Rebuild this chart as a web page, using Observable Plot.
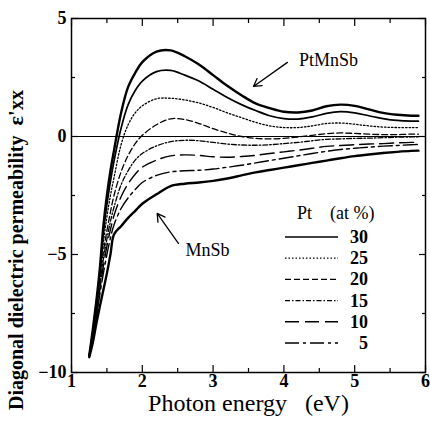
<!DOCTYPE html>
<html><head><meta charset="utf-8">
<script src="https://cdn.jsdelivr.net/npm/d3@7"></script>
<script src="https://cdn.jsdelivr.net/npm/@observablehq/plot@0.6"></script>
<style>
body{margin:0;background:#fff;}
#wrap{position:relative;width:430px;height:421px;}
#legend{position:absolute;left:0;top:0;width:430px;height:421px;pointer-events:none;}
svg text{font-family:"Liberation Serif","Times New Roman",Times,"DejaVu Serif",serif;}
</style>
</head><body>
<div id="wrap"><div id="chart"></div><svg id="legend" width="430" height="421"></svg></div>
<script>
// Photon energy (eV)
const energy = [1.25,1.3,1.35,1.4,1.45,1.5,1.55,1.6,1.7,1.8,1.9,2.0,2.2,2.4,2.6,2.8,3.0,3.2,3.4,3.6,3.8,4.0,4.2,4.4,4.6,4.8,5.0,5.2,5.4,5.6,5.8,5.9];
// ε'xx for each composition
const ptmnsb = [-9.3,-8.2,-7.0,-5.6,-3.8,-2.5,-1.45,-0.6,1.0,2.1,2.7,3.15,3.6,3.65,3.4,3.05,2.6,2.15,1.75,1.4,1.2,1.05,1.02,1.1,1.28,1.35,1.3,1.15,1.0,0.92,0.88,0.88];
const pt30 = [-9.3,-8.3,-7.1,-5.8,-4.1,-2.9,-1.9,-1.05,0.35,1.35,1.95,2.35,2.75,2.8,2.6,2.35,2.0,1.65,1.35,1.1,0.88,0.76,0.74,0.83,0.98,1.05,1.0,0.88,0.76,0.68,0.65,0.65];
const pt25 = [-9.3,-8.4,-7.25,-6.0,-4.5,-3.4,-2.5,-1.75,-0.35,0.5,1.0,1.3,1.6,1.62,1.55,1.42,1.23,1.0,0.8,0.6,0.45,0.38,0.38,0.45,0.55,0.57,0.52,0.45,0.4,0.38,0.38,0.38];
const pt20 = [-9.3,-8.5,-7.4,-6.2,-4.9,-4.0,-3.2,-2.5,-1.5,-0.8,-0.3,0.05,0.5,0.75,0.72,0.55,0.33,0.15,0.0,-0.08,-0.1,-0.08,-0.02,0.05,0.12,0.15,0.13,0.1,0.08,0.08,0.1,0.1];
const pt15 = [-9.3,-8.55,-7.5,-6.4,-5.2,-4.35,-3.6,-3.0,-2.05,-1.45,-1.0,-0.72,-0.4,-0.22,-0.16,-0.18,-0.25,-0.32,-0.36,-0.37,-0.35,-0.3,-0.25,-0.18,-0.12,-0.1,-0.08,-0.07,-0.05,-0.03,-0.02,-0.02];
const pt10 = [-9.3,-8.6,-7.6,-6.5,-5.5,-4.65,-3.95,-3.35,-2.55,-2.0,-1.6,-1.3,-1.0,-0.82,-0.78,-0.8,-0.86,-0.88,-0.85,-0.8,-0.72,-0.65,-0.58,-0.5,-0.42,-0.38,-0.35,-0.32,-0.3,-0.27,-0.25,-0.25];
const pt5 = [-9.3,-8.65,-7.7,-6.7,-5.8,-5.0,-4.3,-3.75,-3.05,-2.6,-2.25,-1.95,-1.65,-1.5,-1.45,-1.43,-1.38,-1.3,-1.22,-1.12,-1.02,-0.92,-0.82,-0.72,-0.63,-0.55,-0.5,-0.45,-0.41,-0.38,-0.35,-0.34];
const mnsb = [-9.35,-8.75,-7.95,-7.2,-6.5,-5.8,-5.0,-4.15,-3.8,-3.45,-3.15,-2.85,-2.45,-2.1,-2.0,-1.95,-1.88,-1.78,-1.65,-1.52,-1.42,-1.32,-1.22,-1.12,-1.02,-0.92,-0.83,-0.76,-0.7,-0.65,-0.61,-0.6];
const legendLabels = ["30","25","20","15","10","5"];
const xTicks = [1,2,3,4,5,6];
const xMinor = [1.5,2.5,3.5,4.5,5.5];
const yTicks = [-10,-5,0,5];
const yMinor = [-7.5,-2.5,2.5];

const styles = {
  ptmnsb: {values: ptmnsb, w: 2.4, dash: null},
  pt30: {values: pt30, w: 1.7, dash: null},
  pt25: {values: pt25, w: 1.3, dash: "1.5,2"},
  pt20: {values: pt20, w: 1.3, dash: "6,3"},
  pt15: {values: pt15, w: 1.3, dash: "5,2,1.5,2"},
  pt10: {values: pt10, w: 1.4, dash: "14,6"},
  pt5: {values: pt5, w: 1.4, dash: "14,4,3,4"},
  mnsb: {values: mnsb, w: 2.4, dash: null}
};
const lineMarks = Object.entries(styles).map(([k, s]) => {
  const rows = energy.map((e, i) => ({x: e, y: s.values[i]}));
  return Plot.line(rows, {x: "x", y: "y", curve: "catmull-rom", stroke: "black", strokeWidth: s.w, strokeDasharray: s.dash || undefined});
});

const tickStyle = {fontWeight: "bold", fontSize: 18};
const plot = Plot.plot({
  width: 430, height: 421,
  marginLeft: 71, marginRight: 5, marginTop: 18, marginBottom: 49,
  x: {domain: [1, 6]},
  y: {domain: [-10, 5]},
  style: {fontSize: "17px", color: "black", background: "white"},
  marks: [
    Plot.ruleY([0], {stroke: "black", strokeWidth: 1}),
    ...lineMarks,
    Plot.axisX(xTicks, {anchor: "bottom", tickSize: -7, tickFormat: () => "", label: null, strokeWidth: 1.2}),
    Plot.axisX(xMinor, {anchor: "bottom", tickSize: -4, tickFormat: () => "", label: null, strokeWidth: 1.2}),
    Plot.axisX(xTicks, {anchor: "top", tickSize: -7, tickFormat: () => "", label: null, strokeWidth: 1.2}),
    Plot.axisX(xMinor, {anchor: "top", tickSize: -4, tickFormat: () => "", label: null, strokeWidth: 1.2}),
    Plot.axisX(xTicks, {anchor: "bottom", tickSize: 0, tickPadding: 2, label: null, ...tickStyle}),
    Plot.axisY(yTicks, {anchor: "left", tickSize: -7, tickFormat: () => "", label: null, strokeWidth: 1.2}),
    Plot.axisY(yMinor, {anchor: "left", tickSize: -4, tickFormat: () => "", label: null, strokeWidth: 1.2}),
    Plot.axisY(yTicks, {anchor: "right", tickSize: -7, tickFormat: () => "", label: null, strokeWidth: 1.2}),
    Plot.axisY(yMinor, {anchor: "right", tickSize: -4, tickFormat: () => "", label: null, strokeWidth: 1.2}),
    Plot.axisY(yTicks, {anchor: "left", tickSize: 0, tickPadding: 5, label: null, ...tickStyle}),
    Plot.frame({stroke: "black", strokeWidth: 1.5}),
    Plot.text(["Photon energy   (eV)"], {frameAnchor: "bottom", dy: 38, fontSize: 24, textAnchor: "middle"}),
    Plot.text(["PtMnSb"], {x: 4.63, y: 3.22, fontSize: 18}),
    Plot.arrow([{x1: 4.05, y1: 3.14, x2: 3.57, y2: 2.12}], {x1: "x1", y1: "y1", x2: "x2", y2: "y2", stroke: "black", strokeWidth: 1.3, headLength: 10}),
    Plot.text(["MnSb"], {x: 2.92, y: -4.83, fontSize: 18}),
    Plot.arrow([{x1: 2.51, y1: -4.53, x2: 2.21, y2: -3.26}], {x1: "x1", y1: "y1", x2: "x2", y2: "y2", stroke: "black", strokeWidth: 1.3, headLength: 10})
  ]
});
document.getElementById("chart").appendChild(plot);

// Overlay: y-axis title and legend
const lg = d3.select("#legend");
const yl = lg.append("text").attr("transform", "translate(23,410) rotate(-90)")
  .attr("text-anchor", "start").attr("font-size", 20).attr("font-weight", "bold");
yl.append("tspan").text("Diagonal dielectric permeability");
yl.append("tspan").attr("dx", 10).attr("font-size", 22).text("ε'");
yl.append("tspan").text("xx");
lg.append("text").attr("x", 297).attr("y", 219).attr("font-size", 18).text("Pt");
lg.append("text").attr("x", 330).attr("y", 219).attr("font-size", 18).text("(at %)");
const legendKeys = ["pt30","pt25","pt20","pt15","pt10","pt5"];
legendKeys.forEach((k, i) => {
  const y = 237 + i * 21.2;
  const s = styles[k];
  lg.append("line").attr("x1", 285).attr("x2", 338).attr("y1", y).attr("y2", y)
    .attr("stroke", "black").attr("stroke-width", s.w).attr("stroke-dasharray", s.dash);
  lg.append("text").attr("x", 368).attr("y", y + 6).attr("text-anchor", "end")
    .attr("font-size", 18).attr("font-weight", "bold").text(legendLabels[i]);
});
</script>
</body></html>
